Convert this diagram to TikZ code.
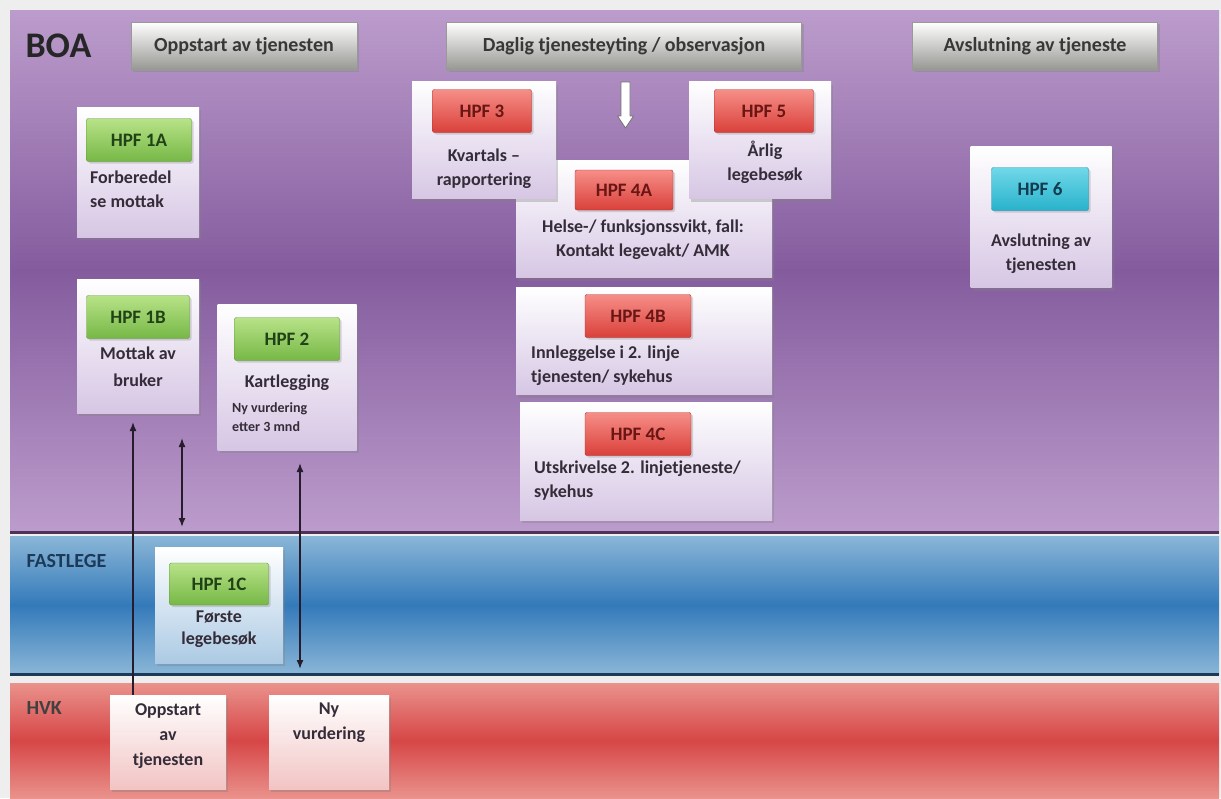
\documentclass[tikz,border=0pt]{standalone}
\usepackage{fontspec}
\setmainfont{Carlito}
\usetikzlibrary{positioning, shadows, arrows.meta}

\definecolor{pageGray}{RGB}{238,238,238}
\definecolor{boaLight}{RGB}{188,156,204}
\definecolor{boaDark}{RGB}{132,92,158}
\definecolor{boaEdge}{RGB}{78,50,88}
\definecolor{fastLight}{RGB}{138,182,215}
\definecolor{fastDark}{RGB}{52,122,186}
\definecolor{fastEdge}{RGB}{28,58,88}
\definecolor{hvkLight}{RGB}{234,146,140}
\definecolor{hvkDark}{RGB}{214,70,70}
\definecolor{hdrGray}{RGB}{150,150,146}
\definecolor{cardBoa}{RGB}{214,198,228}
\definecolor{cardFast}{RGB}{172,202,228}
\definecolor{cardHvk}{RGB}{242,196,196}
\definecolor{greenTop}{RGB}{184,226,136}
\definecolor{greenBot}{RGB}{118,184,70}
\definecolor{greenLine}{RGB}{96,150,60}
\definecolor{greenText}{RGB}{32,66,22}
\definecolor{redTop}{RGB}{246,142,136}
\definecolor{redBot}{RGB}{218,64,58}
\definecolor{redLine}{RGB}{170,50,45}
\definecolor{redText}{RGB}{105,22,20}
\definecolor{tealTop}{RGB}{112,216,232}
\definecolor{tealBot}{RGB}{40,178,204}
\definecolor{tealLine}{RGB}{30,140,165}
\definecolor{tealText}{RGB}{20,60,80}
\definecolor{descText}{RGB}{52,44,56}
\definecolor{linkCol}{RGB}{38,28,44}

\tikzset{
  lane/.style={inner sep=0, outer sep=0, anchor=north west, minimum width=1209pt},
  boalane/.style={lane, top color=boaLight, bottom color=boaLight, middle color=boaDark},
  fastlane/.style={lane, top color=fastLight, bottom color=fastLight, middle color=fastDark},
  hvklane/.style={lane, top color=hvkLight, bottom color=hvkLight, middle color=hvkDark},
  lanename/.style={anchor=west, font=\bfseries\fontsize{20}{24}\selectfont},
  phase/.style={draw=black!40, top color=white, bottom color=hdrGray, text=black!78,
    font=\bfseries\fontsize{20}{24}\selectfont, minimum height=48pt, inner sep=0,
    drop shadow={shadow xshift=2pt, shadow yshift=-2pt, opacity=.35}},
  card/.style={top color=white, bottom color=cardBoa, inner sep=0,
    drop shadow={shadow xshift=2pt, shadow yshift=-3pt, opacity=.35}},
  tag/.style={rounded corners=2pt, inner sep=0, minimum height=43pt,
    font=\bfseries\fontsize{19}{23}\selectfont,
    drop shadow={shadow xshift=2pt, shadow yshift=-2pt, opacity=.3}},
  hpfgreen/.style={tag, top color=greenTop, bottom color=greenBot, draw=greenLine, text=greenText},
  hpfred/.style={tag, top color=redTop, bottom color=redBot, draw=redLine, text=redText},
  hpfteal/.style={tag, top color=tealTop, bottom color=tealBot, draw=tealLine, text=tealText},
  desc/.style={font=\bfseries\fontsize{18}{24}\selectfont, text=descText, align=center, inner sep=0},
  small/.style={font=\bfseries\fontsize{14}{19}\selectfont, text=descText, align=left, inner sep=0, anchor=west},
  link/.style={-{Latex[length=9pt,width=7pt]}, line width=1.5pt, draw=linkCol},
  twolink/.style={link, {Latex[length=9pt,width=7pt]}-{Latex[length=9pt,width=7pt]}}
}

\begin{document}
\begin{tikzpicture}[x=1pt, y=-1pt]
\useasboundingbox (0,0) rectangle (1221,798);
\fill[pageGray] (0,0) rectangle (1221,798);

% Lanes
\node[boalane, minimum height=522pt] (boa) at (10,10) {};
\node[fastlane, minimum height=138pt] (fast) at (10,536) {};
\node[hvklane, minimum height=115pt] (hvk) at (10,683) {};
\draw[boaEdge, line width=3pt] (boa.south west) -- (boa.south east);
\draw[fastEdge, line width=3pt] (fast.south west) -- (fast.south east);

\node[lanename, text=black!85, font=\bfseries\fontsize{36}{40}\selectfont] (boaname) at (22,46) {BOA};
\node[lanename, text=fastEdge] (fastname) at (23,561) {FASTLEGE};
\node[lanename, text=black!75] (hvkname) at (23,708) {HVK};

% Phase headers
\node[phase, minimum width=226pt] (start) at (244,46) {Oppstart av tjenesten};
\node[phase, minimum width=355pt] (daily) at (624,46) {Daglig tjenesteyting / observasjon};
\node[phase, minimum width=245pt] (finish) at (1035,46) {Avslutning av tjeneste};
% hollow flow arrow
\draw[draw=black!55, fill=white, line width=0.8pt, line join=round]
  (621,82) -- (630,82) -- (630,116) -- (633.5,116) -- (625.5,128) -- (617.5,116) -- (621,116) -- cycle;

% BOA cards
\node[card, minimum width=122pt, minimum height=130pt] (c1a) at (138,172) {};
\node[hpfgreen, minimum width=105pt] (t1a) at (139,140) {HPF 1A};
\node[desc, align=left, anchor=west] (d1a) at (90,189) {Forberedel\\se mottak};

\node[card, minimum width=122pt, minimum height=134pt] (c1b) at (138,346) {};
\node[hpfgreen, minimum width=103pt] (t1b) at (138,317) {HPF 1B};
\node[desc, font=\bfseries\fontsize{18}{27}\selectfont] (d1b) at (138,367) {Mottak av\\bruker};

\node[card, minimum width=139pt, minimum height=146pt] (c2) at (287,377) {};
\node[hpfgreen, minimum width=105pt] (t2) at (287,339) {HPF 2};
\node[desc] (d2) at (287,383) {Kartlegging};
\node[small] (n2) at (232,417) {Ny vurdering\\etter 3 mnd};

\node[card, minimum width=256pt, minimum height=117pt] (c4a) at (644,219) {};
\node[hpfred, minimum width=98pt, minimum height=40pt] (t4a) at (624,190) {HPF 4A};
\node[desc] (d4a) at (643,240) {Helse-/ funksjonssvikt, fall:\\Kontakt legevakt/ AMK};

\node[card, minimum width=144pt, minimum height=117pt] (c3) at (484,140) {};
\node[hpfred, minimum width=99pt] (t3) at (482,111) {HPF 3};
\node[desc] (d3) at (484,169) {Kvartals –\\rapportering};

\node[card, minimum width=142pt, minimum height=117pt] (c5) at (760,140) {};
\node[hpfred, minimum width=99pt] (t5) at (764,111) {HPF 5};
\node[desc] (d5) at (765,162) {Årlig\\legebesøk};

\node[card, minimum width=256pt, minimum height=107pt] (c4b) at (644,341) {};
\node[hpfred, minimum width=106pt] (t4b) at (638,316) {HPF 4B};
\node[desc, align=left, anchor=west] (d4b) at (531,366) {Innleggelse i 2. linje\\tjenesten/ sykehus};

\node[card, minimum width=252pt, minimum height=118pt] (c4c) at (646,461) {};
\node[hpfred, minimum width=106pt] (t4c) at (638,434) {HPF 4C};
\node[desc, align=left, anchor=west] (d4c) at (534,481) {Utskrivelse 2. linjetjeneste/\\sykehus};

\node[card, minimum width=141pt, minimum height=141pt] (c6) at (1041,217) {};
\node[hpfteal, minimum width=97pt] (t6) at (1040,189) {HPF 6};
\node[desc] (d6) at (1041,254) {Avslutning av\\tjenesten};

% FASTLEGE card
\node[card, bottom color=cardFast, minimum width=128pt, minimum height=116pt] (c1c) at (219,605) {};
\node[hpfgreen, minimum width=99pt, minimum height=42pt] (t1c) at (219,584) {HPF 1C};
\node[desc, font=\bfseries\fontsize{18}{22}\selectfont] (d1c) at (219,629) {Første\\legebesøk};

% HVK cards
\node[card, bottom color=cardHvk, minimum width=116pt, minimum height=94pt] (h1) at (168,742) {};
\node[desc, font=\bfseries\fontsize{18}{25}\selectfont, anchor=north] (dh1) at (168,703) {Oppstart\\av\\tjenesten};
\node[card, bottom color=cardHvk, minimum width=120pt, minimum height=94pt] (h2) at (329,742) {};
\node[desc, font=\bfseries\fontsize{18}{25}\selectfont, anchor=north] (dh2) at (329,703) {Ny\\vurdering};

% Links
\coordinate (tip1) at (133,422);
\coordinate (tip2) at (182,438);
\coordinate (tip3) at (300,463);
\draw[link] (tip1 |- h1.north) -- (tip1);
\draw[twolink, shorten >=5pt] (tip2) -- (tip2 |- boa.south);
\draw[twolink, shorten >=5pt] (tip3) -- (tip3 |- fast.south);
\end{tikzpicture}
\end{document}
